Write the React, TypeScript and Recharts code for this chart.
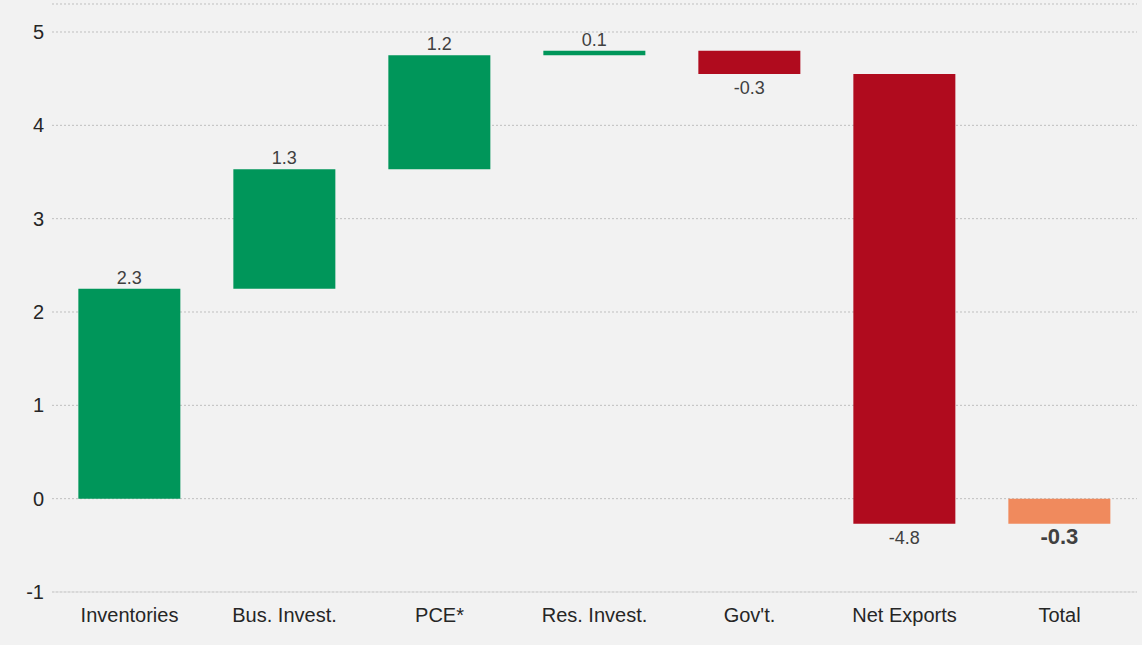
import React from "react";
import { BarChart, Bar, XAxis, YAxis, CartesianGrid, Cell, LabelList } from "recharts";

const categories = ["Inventories", "Bus. Invest.", "PCE*", "Res. Invest.", "Gov't.", "Net Exports", "Total"];
const starts = [0, 2.25, 3.53, 4.75, 4.8, 4.55, 0];
const ends = [2.25, 3.53, 4.75, 4.8, 4.55, -0.27, -0.27];
const labels = ["2.3", "1.3", "1.2", "0.1", "-0.3", "-4.8", "-0.3"];
const colors = ["#00965a", "#00965a", "#00965a", "#00965a", "#b00b1e", "#b00b1e", "#f08a5d"];
const yTicks = [-1, 0, 1, 2, 3, 4, 5];

const data = categories.map((name, i) => ({
  name,
  range: [Math.min(starts[i], ends[i]), Math.max(starts[i], ends[i])],
  label: labels[i],
  up: ends[i] >= starts[i],
}));

function ValueLabel(props: any) {
  const { x, y, width, height, index } = props;
  const d = data[index];
  const top = Math.min(y, y + height);
  const bottom = Math.max(y, y + height);
  const isTotal = index === data.length - 1;
  return (
    <text
      x={x + width / 2}
      y={d.up ? top - 5 : bottom + 20}
      textAnchor="middle"
      fontSize={isTotal ? 22 : 18}
      fontWeight={isTotal ? "bold" : "normal"}
      fill="#404040"
    >
      {d.label}
    </text>
  );
}

export default function App() {
  return (
    <div style={{ position: "fixed", left: 0, top: 0, width: 1142, height: 645, background: "#f2f2f2", fontFamily: "'Liberation Sans', Arial, sans-serif" }}>
      <BarChart width={1142} height={645} data={data} margin={{ top: 4, right: 5, left: 12, bottom: 8 }} barCategoryGap="17%">
        <CartesianGrid vertical={false} stroke="#bfbfbf" strokeDasharray="2 2" />
        <XAxis dataKey="name" height={45} tickLine={false} axisLine={{ stroke: "#d9d9d9" }} tick={{ fontSize: 20, fill: "#262626", dy: 8 }} />
        <YAxis width={40} domain={[-1, 5.3]} ticks={yTicks} axisLine={false} tickLine={false} tick={{ fontSize: 20, fill: "#262626" }} allowDataOverflow />
        <Bar dataKey="range" isAnimationActive={false}>
          {data.map((d, i) => (
            <Cell key={d.name} fill={colors[i]} />
          ))}
          <LabelList dataKey="label" content={ValueLabel} />
        </Bar>
      </BarChart>
    </div>
  );
}
